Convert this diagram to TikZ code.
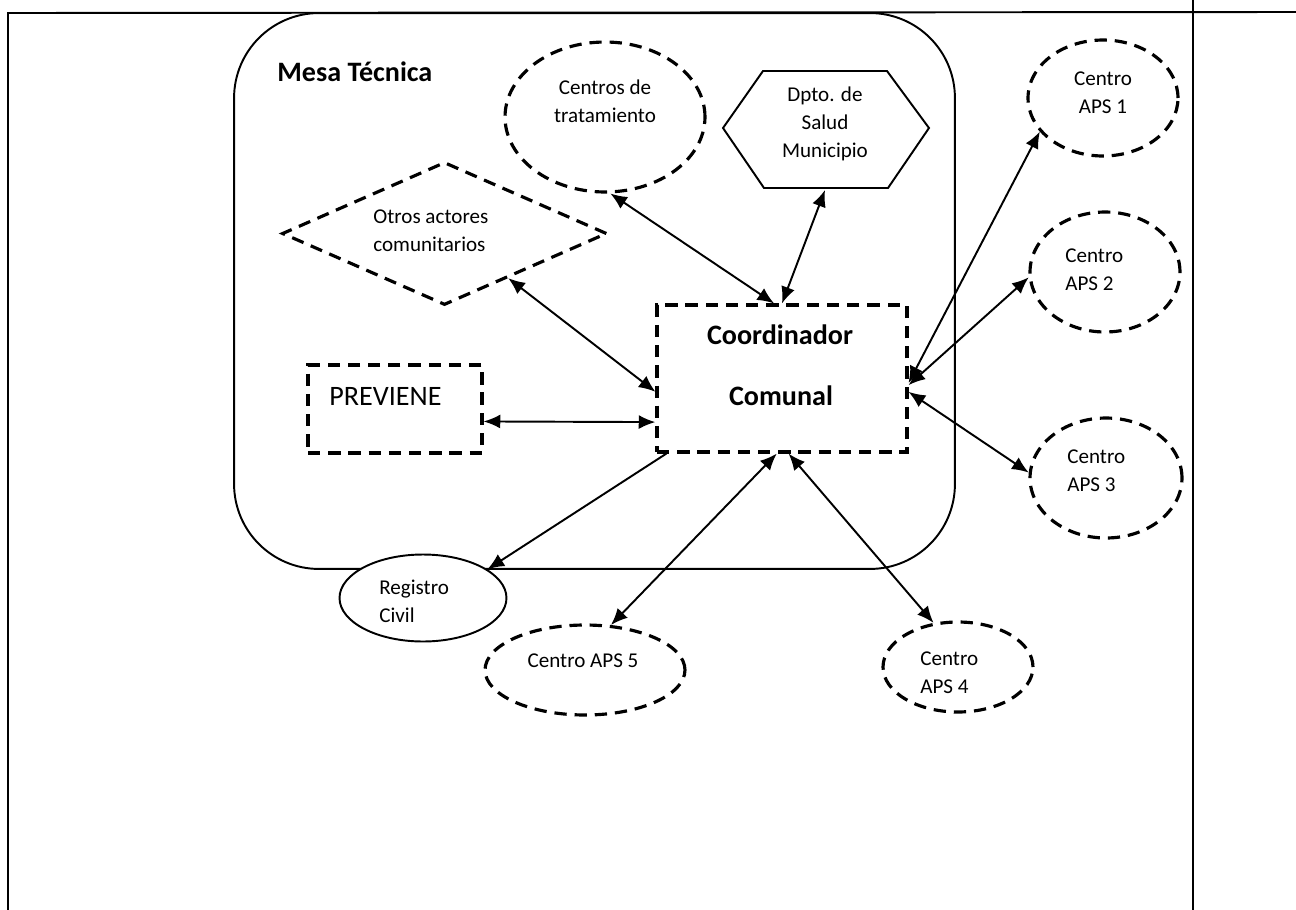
\documentclass[tikz,border=0pt]{standalone}
\usepackage{fontspec}
\setmainfont{Carlito}
\usetikzlibrary{shapes.geometric,arrows.meta}
\begin{document}
\begin{tikzpicture}[x=0.02cm,y=-0.02cm,
  frame/.style={line width=1.1pt},
  solidshape/.style={draw,line width=1.1pt,inner sep=0pt},
  dashshape/.style={draw,line width=1.8pt,dash pattern=on 7pt off 4.5pt,inner sep=0pt},
  arr/.style={line width=1.1pt,{Latex[length=9.5pt,width=8pt]}-{Latex[length=9.5pt,width=8pt]}},
  arrone/.style={line width=1.1pt,-{Latex[length=9.5pt,width=8pt]}},
  small/.style={font=\fontsize{12}{16}\selectfont,inner sep=0pt},
  big/.style={font=\fontsize{16}{20}\selectfont,inner sep=0pt},
  bigb/.style={font=\fontsize{16}{20}\selectfont\bfseries,inner sep=0pt}]
\useasboundingbox (0,0) rectangle (1296,910);

% page frame
\draw[frame] (8,910) -- (8,13) -- (1296,12);
\draw[frame] (1193,0) -- (1193,910);

% Mesa Tecnica container
\node[solidshape, rounded corners=1.7cm, minimum width=14.42cm, minimum height=11.12cm] (mesa) at (594.5,291) {};

% shapes
\node[dashshape, ellipse, minimum width=4cm, minimum height=3cm] (cent) at (605,117) {};
\draw[line width=1.1pt] (723,128) -- (763,71) -- (887,71) -- (929,128) -- (888,188) -- (764,188) -- cycle;
\coordinate (dptoB) at (825,190);
\node[dashshape, diamond, minimum width=6.5cm, minimum height=2.86cm] (otros) at (444.5,233.5) {};
\node[dashshape, rectangle, minimum width=3.48cm, minimum height=1.76cm] (prev) at (395,409) {};
\node[dashshape, rectangle, minimum width=5cm, minimum height=2.94cm] (coord) at (782,378.5) {};
\node[dashshape, ellipse, minimum width=3cm, minimum height=2.32cm] (aps1) at (1103,98) {};
\node[dashshape, ellipse, minimum width=3cm, minimum height=2.4cm] (aps2) at (1105,272) {};
\node[dashshape, ellipse, minimum width=3.04cm, minimum height=2.4cm] (aps3) at (1106,478) {};
\node[dashshape, ellipse, minimum width=3cm, minimum height=1.8cm] (aps4) at (958,667) {};
\node[dashshape, ellipse, minimum width=4cm, minimum height=1.8cm] (aps5) at (585,670) {};
\node[solidshape, ellipse, fill=white, minimum width=3.34cm, minimum height=1.74cm] (reg) at (423,598) {};

% connectors
\draw[arr] (cent.-86) -- (coord.96);
\draw[arr] (dptoB) -- (coord.90);
\draw[arr] (otros.-35) -- (coord.186);
\draw[arr] (prev.-8.5) -- (coord.199);
\draw[arrone] (coord.213) -- (reg.24);
\draw[arr] (coord.266) -- (aps5.60);
\draw[arr] (coord.275) -- (aps4.119);
\draw[arr] (coord.-2) -- (aps1.208);
\draw[arr] (coord.-3) -- (aps2.184);
\draw[arr] (coord.-6.6) -- (aps3.176);

% texts
\node[bigb,anchor=base west] (tmesa) at (277,81) {Mesa Técnica};
\node[small,align=center] (tcent) at (605,101) {Centros de\\tratamiento};
\node[small,align=center] (tdpto) at (825,124) {Dpto. de\\Salud\\Municipio};
\node[small,align=center] (taps1) at (1103,93) {Centro\\APS 1};
\node[small,align=left,anchor=west] (taps2) at (1065,270) {Centro\\APS 2};
\node[small,align=left,anchor=west] (taps3) at (1067,471) {Centro\\APS 3};
\node[small,align=left,anchor=west] (taps4) at (920,673) {Centro\\APS 4};
\node[small] (taps5) at (583,661) {Centro APS 5};
\node[small,align=left,anchor=west] (treg) at (379,601) {Registro\\Civil};
\node[small,align=left,anchor=west] (totros) at (373,231) {Otros actores\\comunitarios};
\node[big,anchor=base west] (tprev) at (329,405) {PREVIENE};
\node[bigb,anchor=base] (tcoord1) at (780,344) {Coordinador};
\node[bigb,anchor=base] (tcoord2) at (781,405) {Comunal};
\end{tikzpicture}
\end{document}
